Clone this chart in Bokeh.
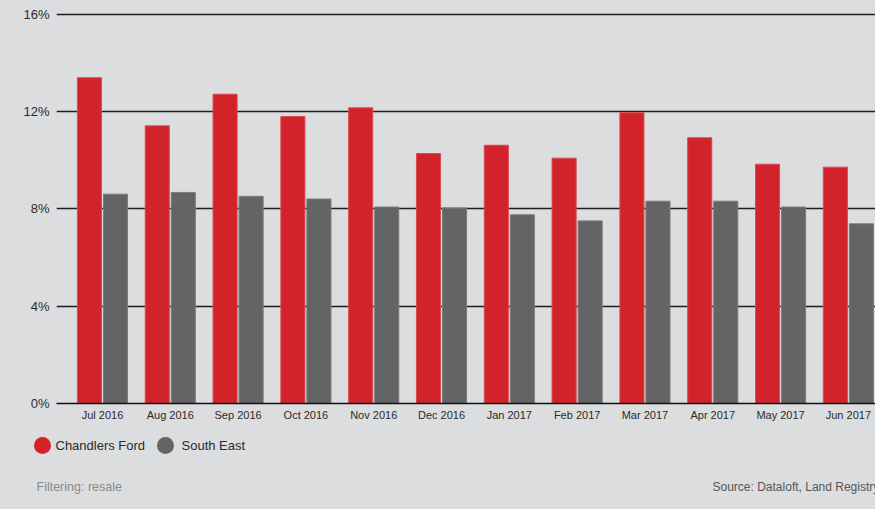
from bokeh.plotting import figure
from bokeh.layouts import column
from bokeh.models import ColumnDataSource, Range1d, FixedTicker, PrintfTickFormatter
from bokeh.transform import dodge
from bokeh.core.properties import value
from bokeh.embed import file_html
from bokeh.resources import INLINE

months = ["Jul 2016", "Aug 2016", "Sep 2016", "Oct 2016", "Nov 2016", "Dec 2016",
          "Jan 2017", "Feb 2017", "Mar 2017", "Apr 2017", "May 2017", "Jun 2017"]
chandlers_ford = [13.40, 11.42, 12.72, 11.80, 12.16, 10.28, 10.62, 10.09, 11.96, 10.93, 9.84, 9.72]
south_east = [8.61, 8.68, 8.52, 8.41, 8.08, 8.04, 7.76, 7.51, 8.32, 8.32, 8.08, 7.39]
series_names = ["Chandlers Ford", "South East"]
y_ticks = [0, 4, 8, 12, 16]
footer_left = "Filtering: resale"
footer_right = "Source: Dataloft, Land Registry"

RED = "#d2232a"
GREY = "#636466"
BG = "#dcdddf"
FONT = "Liberation Sans"

idx = list(range(len(months)))
src = ColumnDataSource(dict(x=idx, cf=chandlers_ford, se=south_east))

p = figure(width=875, height=433, output_backend="svg", toolbar_location=None,
           x_range=Range1d(-0.678, 11.40), y_range=Range1d(0, 16.41),
           min_border_left=56, min_border_right=0, min_border_top=4, min_border_bottom=30,
           frame_align=False)
p.background_fill_color = BG
p.background_fill_alpha = 0
p.border_fill_color = BG
p.outline_line_color = None

p.vbar(x=dodge("x", -0.192, range=p.x_range), top="cf", width=0.355, source=src,
       fill_color=RED, line_color="#dc4a50", line_width=1)
p.vbar(x=dodge("x", 0.192, range=p.x_range), top="se", width=0.355, source=src,
       fill_color=GREY, line_color="#7a7b7d", line_width=1)

# x axis
xa = p.xaxis[0]
xa.ticker = FixedTicker(ticks=idx)
xa.major_label_overrides = {i: m for i, m in zip(idx, months)}
xa.major_tick_line_color = None
xa.minor_tick_line_color = None
xa.major_tick_out = 0
xa.major_tick_in = 0
xa.axis_line_color = "#111111"
xa.axis_line_width = 1.6
xa.major_label_text_font = FONT
xa.major_label_text_font_size = "11px"
xa.major_label_text_color = "#2a2a2a"
xa.major_label_standoff = 5

# y axis
ya = p.yaxis[0]
ya.ticker = FixedTicker(ticks=y_ticks)
ya.formatter = PrintfTickFormatter(format="%d%%")
ya.axis_line_color = None
ya.major_tick_line_color = None
ya.minor_tick_line_color = None
ya.major_tick_out = 0
ya.major_tick_in = 0
ya.major_label_text_font = FONT
ya.major_label_text_font_size = "13px"
ya.major_label_text_color = "#2a2a2a"
ya.major_label_standoff = 7

p.xgrid.grid_line_color = None
p.ygrid.ticker = FixedTicker(ticks=y_ticks)
p.ygrid.grid_line_color = "#1e1e1e"
p.ygrid.grid_line_width = 1.3

# footer / legend figure
f = figure(width=875, height=76, output_backend="svg", toolbar_location=None,
           x_range=Range1d(0, 875), y_range=Range1d(76, 0),
           min_border=0, min_border_left=0, min_border_right=0,
           min_border_top=0, min_border_bottom=0, frame_align=False)
f.background_fill_color = BG
f.background_fill_alpha = 0
f.border_fill_color = BG
f.outline_line_color = None
f.axis.visible = False
f.grid.visible = False

leg = ColumnDataSource(dict(cx=[42, 165], cy=[12, 12], color=[RED, GREY],
                            tx=[55, 181], label=series_names))
f.scatter(x="cx", y="cy", size=17, fill_color="color", line_color=None, source=leg)
f.text(x="tx", y="cy", text="label", source=leg, text_font=value(FONT),
       text_font_size="13px", text_color="#2a2a2a", text_baseline="middle")

foot = ColumnDataSource(dict(x=[36], y=[53], t=[footer_left]))
f.text(x="x", y="y", text="t", source=foot, text_font=value(FONT),
       text_font_size="12.5px", text_color="#8a8a8a", text_baseline="middle")
foot2 = ColumnDataSource(dict(x=[712], y=[53], t=[footer_right]))
f.text(x="x", y="y", text="t", source=foot2, text_font=value(FONT),
       text_font_size="12px", text_color="#555555", text_baseline="middle")

layout = column(p, f, spacing=0)
layout.styles = {"background-color": BG}
open("out.html", "w").write(file_html(layout, INLINE))
